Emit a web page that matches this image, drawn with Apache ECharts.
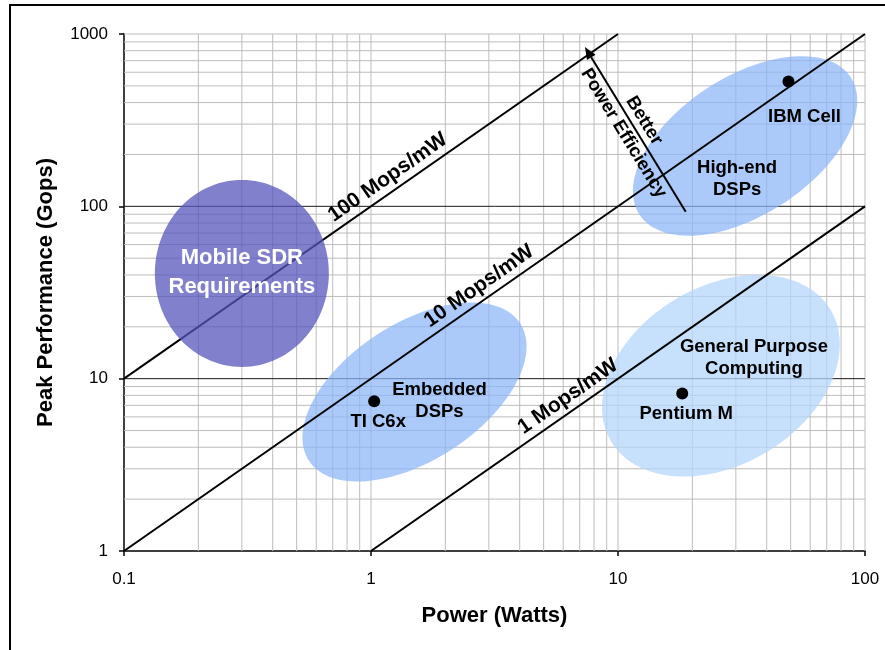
<!DOCTYPE html>
<html>
<head>
<meta charset="utf-8">
<script src="https://cdn.jsdelivr.net/npm/echarts@6/dist/echarts.min.js"></script>
<style>
html, body { margin: 0; padding: 0; background: #fff; }
#chart { width: 885px; height: 650px; }
</style>
</head>
<body>
<div id="chart"></div>
<script>
// ---- Data ----
// Decade ticks on both log axes
const powerTicks = [0.1, 1, 10, 100];
const perfTicks = [1, 10, 100, 1000];

// Grid lines inside each decade
const gridPower = [0.2, 0.3, 0.4, 0.5, 0.6, 0.7, 0.8, 0.9, 1,
                   2, 3, 4, 5, 6, 7, 8, 9, 10,
                   20, 30, 40, 50, 60, 70, 80, 90, 100];
const gridPerf = [2, 3, 4, 5, 6, 7, 8, 9, 10,
                  20, 30, 40, 50, 60, 70, 80, 90, 100,
                  200, 300, 400, 500, 600, 700, 800, 900, 1000];
const majorPerf = [10, 100];

// Constant power-efficiency lines (Gops per Watt == Mops per mW)
const efficiencyLabels = ['100 Mops/mW', '10 Mops/mW', '1 Mops/mW'];
const efficiencyGopsPerWatt = [100, 10, 1];
const efficiencyFromPower = [0.1, 0.1, 1];
const efficiencyToPower = [10, 100, 100];
const efficiencyLabelPower = [1.26, 2.95, 6.76];

// Processors
const deviceNames = ['TI C6x', 'Pentium M', 'IBM Cell'];
const devicePower = [1.03, 18.2, 49];
const devicePerf = [7.4, 8.2, 530];

// Regions (centre power in W, centre performance in Gops)
const regionNames = ['Mobile SDR\nRequirements', 'Embedded\nDSPs', 'High-end\nDSPs', 'General Purpose\nComputing'];
const regionPower = [0.3, 1.5, 32.7, 26.1];
const regionPerf = [40.8, 8.37, 224, 10.4];

// "Better power efficiency" arrow (tail, head) in W / Gops
const arrowTail = [18.8, 93];
const arrowHead = [7.35, 840];

// ---- Styles ----
const FONT = '"Liberation Sans", Arial, Helvetica, sans-serif';
const GRID_GREY = '#bdbdbd';

const regionStyle = [
  { rx: 87, ry: 93.5, angle: 0, fill: 'rgba(86,86,187,0.75)', text: '#fff', size: 22, lh: 29, dx: 0, dy: -1, top: true },
  { rx: 126, ry: 68.5, angle: 33, fill: 'rgba(138,180,246,0.72)', text: '#000', size: 18.5, lh: 22, dx: 25, dy: 9 },
  { rx: 126, ry: 69, angle: 33, fill: 'rgba(138,180,246,0.72)', text: '#000', size: 18.5, lh: 22, dx: -8, dy: 33 },
  { rx: 128, ry: 89, angle: 31, fill: 'rgba(180,214,249,0.75)', text: '#000', size: 18.5, lh: 22, dx: 33, dy: -18 }
];
const deviceLabelOffset = [[4, 21], [4, 20], [16, 35]];

function ellipsePoints(cx, cy, a, b, deg) {
  const t = deg * Math.PI / 180, ct = Math.cos(t), st = Math.sin(t);
  const pts = [];
  for (let k = 0; k < 120; k++) {
    const s = k / 120 * Math.PI * 2;
    const u = a * Math.cos(s), v = b * Math.sin(s);
    pts.push([cx + u * ct + v * st, cy - u * st + v * ct]);
  }
  return pts;
}

function regionSeries(onTop, z) {
  return {
    type: 'custom', z: z, silent: true,
    data: regionPower.map((p, i) => [p, regionPerf[i]]),
    renderItem: function (params, api) {
      const st = regionStyle[params.dataIndex];
      if (!!st.top !== onTop) return null;
      const c = api.coord([api.value(0), api.value(1)]);
      return {
        type: 'polygon',
        shape: { points: ellipsePoints(c[0], c[1], st.rx, st.ry, st.angle), smooth: 0 },
        style: { fill: st.fill, stroke: null }
      };
    }
  };
}

const chart = echarts.init(document.getElementById('chart'), null, { renderer: 'canvas' });

const series = [];

// vertical grid lines
series.push({
  type: 'custom', z: 1, silent: true,
  data: gridPower.map(p => [p, 1]),
  renderItem: function (params, api) {
    const a = api.coord([api.value(0), perfTicks[0]]);
    const b = api.coord([api.value(0), perfTicks[perfTicks.length - 1]]);
    return { type: 'line', shape: { x1: a[0], y1: a[1], x2: b[0], y2: b[1] },
             style: { stroke: GRID_GREY, lineWidth: 1 } };
  }
});
// horizontal grid lines
series.push({
  type: 'custom', z: 1, silent: true,
  data: gridPerf.map(g => [0.1, g]),
  renderItem: function (params, api) {
    const v = api.value(1);
    const a = api.coord([powerTicks[0], v]);
    const b = api.coord([powerTicks[powerTicks.length - 1], v]);
    const major = majorPerf.indexOf(v) >= 0;
    return { type: 'line', shape: { x1: a[0], y1: a[1], x2: b[0], y2: b[1] },
             style: { stroke: major ? '#1a1a1a' : GRID_GREY, lineWidth: 1 } };
  }
});

// light regions under the efficiency lines
series.push(regionSeries(false, 2));

// efficiency lines
efficiencyGopsPerWatt.forEach((e, i) => {
  series.push({
    type: 'line', z: 3, silent: true, showSymbol: false, symbol: 'none',
    data: [[efficiencyFromPower[i], efficiencyFromPower[i] * e],
           [efficiencyToPower[i], efficiencyToPower[i] * e]],
    lineStyle: { color: '#000', width: 2 }
  });
});

// processors
series.push({
  type: 'scatter', z: 4, silent: true,
  symbol: 'circle', symbolSize: 12,
  itemStyle: { color: '#000', opacity: 1 },
  data: deviceNames.map((n, i) => ({ name: n, value: [devicePower[i], devicePerf[i]] }))
});

// mobile SDR region on top of lines
series.push(regionSeries(true, 5));

// text annotations and the efficiency arrow
series.push({
  type: 'custom', z: 10, silent: true,
  data: [[1, 10]],
  renderItem: function (params, api) {
    const children = [];
    const boldText = (x, y, text, size, fill, extra) => Object.assign({
      type: 'text', x: x, y: y,
      style: Object.assign({ text: text, fill: fill, fontFamily: FONT, fontWeight: 'bold',
               fontSize: size, align: 'center', verticalAlign: 'middle' }, extra || {})
    });
    // region labels
    regionNames.forEach((name, i) => {
      const st = regionStyle[i];
      const c = api.coord([regionPower[i], regionPerf[i]]);
      children.push(boldText(c[0] + st.dx, c[1] + st.dy, name, st.size, st.text, { lineHeight: st.lh }));
    });
    // processor labels
    deviceNames.forEach((name, i) => {
      const c = api.coord([devicePower[i], devicePerf[i]]);
      children.push(boldText(c[0] + deviceLabelOffset[i][0], c[1] + deviceLabelOffset[i][1], name, 18.5, '#000'));
    });
    // efficiency line labels
    efficiencyLabels.forEach((name, i) => {
      const e = efficiencyGopsPerWatt[i];
      const p0 = api.coord([efficiencyFromPower[i], efficiencyFromPower[i] * e]);
      const p1 = api.coord([efficiencyToPower[i], efficiencyToPower[i] * e]);
      const ang = Math.atan2(-(p1[1] - p0[1]), p1[0] - p0[0]);
      const c = api.coord([efficiencyLabelPower[i], efficiencyLabelPower[i] * e]);
      const off = 14;
      const el = boldText(c[0] - Math.sin(ang) * off, c[1] - Math.cos(ang) * off, name, 21, '#000');
      el.rotation = ang;
      children.push(el);
    });
    // arrow
    const t = api.coord(arrowTail), h = api.coord(arrowHead);
    const dx = h[0] - t[0], dy = h[1] - t[1];
    const len = Math.sqrt(dx * dx + dy * dy);
    const ux = dx / len, uy = dy / len;
    const headLen = 12, headW = 5;
    const bx = h[0] - ux * headLen, by = h[1] - uy * headLen;
    children.push({
      type: 'line', shape: { x1: t[0], y1: t[1], x2: bx, y2: by },
      style: { stroke: '#000', lineWidth: 2 }
    });
    children.push({
      type: 'polygon',
      shape: { points: [[h[0], h[1]], [bx - uy * headW, by + ux * headW], [bx + uy * headW, by - ux * headW]] },
      style: { fill: '#000' }
    });
    const f = 0.485;
    const ang2 = Math.atan2(-(t[1] - h[1]), t[0] - h[0]);
    const arrowText = boldText(h[0] - dx * f, h[1] - dy * f, 'Better\nPower Efficiency', 18.5, '#000', { lineHeight: 24 });
    arrowText.rotation = ang2;
    children.push(arrowText);
    return { type: 'group', children: children };
  }
});

const axisLabelFmt = v => String(+Number(v).toPrecision(3));

chart.setOption({
  animation: false,
  backgroundColor: '#fff',
  graphic: [{
    type: 'rect', z: 100, silent: true,
    shape: { x: 10, y: 5, width: 900, height: 700 },
    style: { fill: null, stroke: '#000', lineWidth: 2 }
  }],
  grid: { left: 124, top: 34, right: 20, bottom: 99, containLabel: false },
  xAxis: {
    type: 'log', logBase: 10, min: powerTicks[0], max: powerTicks[powerTicks.length - 1],
    name: 'Power (Watts)', nameLocation: 'middle', nameGap: 54,
    nameTextStyle: { fontFamily: FONT, fontWeight: 'bold', fontSize: 22, color: '#000' },
    axisLine: { show: true, onZero: false, lineStyle: { color: '#000', width: 1.5 } },
    axisTick: { show: true, inside: false, length: 5, lineStyle: { color: '#000', width: 1.5 } },
    axisLabel: { formatter: axisLabelFmt, fontFamily: FONT, fontSize: 17, color: '#000', margin: 20 },
    splitLine: { show: false }, minorTick: { show: false }, minorSplitLine: { show: false }
  },
  yAxis: {
    type: 'log', logBase: 10, min: perfTicks[0], max: perfTicks[perfTicks.length - 1],
    name: 'Peak Performance (Gops)', nameLocation: 'middle', nameGap: 67,
    nameTextStyle: { fontFamily: FONT, fontWeight: 'bold', fontSize: 22, color: '#000' },
    axisLine: { show: true, onZero: false, lineStyle: { color: '#000', width: 1.5 } },
    axisTick: { show: true, inside: false, length: 5, lineStyle: { color: '#000', width: 1.5 } },
    axisLabel: { formatter: axisLabelFmt, fontFamily: FONT, fontSize: 17, color: '#000', margin: 16 },
    splitLine: { show: false }, minorTick: { show: false }, minorSplitLine: { show: false }
  },
  series: series
});
</script>
</body>
</html>
